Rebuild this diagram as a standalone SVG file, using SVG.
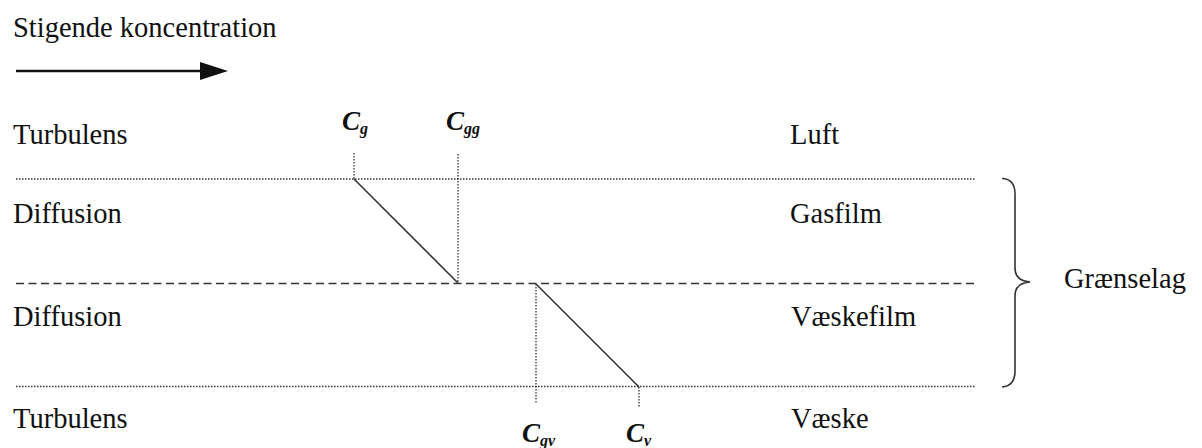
<svg xmlns="http://www.w3.org/2000/svg" width="1202" height="448" viewBox="0 0 1202 448">
<defs>
<style>
.t{font-family:"Liberation Serif","Times New Roman",serif;font-size:28.5px;fill:#111}
.c{font-family:"Liberation Serif","Times New Roman",serif;font-size:27px;font-style:italic;font-weight:bold;fill:#111}
.s{font-size:16px}
.dot{stroke:#333;stroke-width:1.3;stroke-dasharray:1.5 1.5;fill:none}
.dash{stroke:#333;stroke-width:1.6;stroke-dasharray:8 4.5;fill:none}
.sol{stroke:#333;stroke-width:1.6;fill:none}
</style>
</defs>
<rect width="1202" height="448" fill="#fff"/>
<text class="t" x="13" y="37">Stigende koncentration</text>
<g id="arrow">
<line x1="16" y1="71" x2="202" y2="71" stroke="#111" stroke-width="2.5"/>
<path d="M200,62 L228,71 L200,80 z" fill="#111"/>
</g>
<g id="labels-left">
<text class="t" x="13" y="144">Turbulens</text>
<text class="t" x="13" y="223">Diffusion</text>
<text class="t" x="13" y="326">Diffusion</text>
<text class="t" x="13" y="428">Turbulens</text>
</g>
<g id="labels-right">
<text class="t" x="790" y="144">Luft</text>
<text class="t" x="790" y="223">Gasfilm</text>
<text class="t" x="791" y="326">Væskefilm</text>
<text class="t" x="791" y="428">Væske</text>
</g>
<g id="layers">
<line class="dot" x1="16" y1="179" x2="975" y2="179"/>
<line class="dash" x1="16" y1="283.5" x2="978" y2="283.5"/>
<line class="dot" x1="16" y1="386.5" x2="975" y2="386.5"/>
</g>
<g id="connectors">
<line class="dot" x1="354" y1="153" x2="354" y2="179"/>
<line class="dot" x1="458" y1="154" x2="458" y2="283"/>
<line class="sol" x1="354" y1="179" x2="458" y2="283"/>
<line class="dot" x1="536" y1="284" x2="536" y2="403"/>
<line class="dot" x1="639" y1="387" x2="639" y2="408"/>
<line class="sol" x1="536" y1="284" x2="639" y2="387"/>
</g>
<g id="conc-labels">
<text class="c" x="342" y="130">C<tspan class="s" dy="4">g</tspan></text>
<text class="c" x="446" y="130">C<tspan class="s" dy="4">gg</tspan></text>
<text class="c" x="522" y="442">C<tspan class="s" dy="4">gv</tspan></text>
<text class="c" x="626" y="442">C<tspan class="s" dy="4">v</tspan></text>
</g>
<g id="brace">
<path class="sol" stroke-width="1.5" d="M1002,178.5 Q1015,179 1015,194 L1015,268 Q1015,281 1030,282 Q1015,283 1015,296 L1015,371 Q1015,386 1002,387"/>
<text class="t" x="1064" y="288">Grænselag</text>
</g>
</svg>
